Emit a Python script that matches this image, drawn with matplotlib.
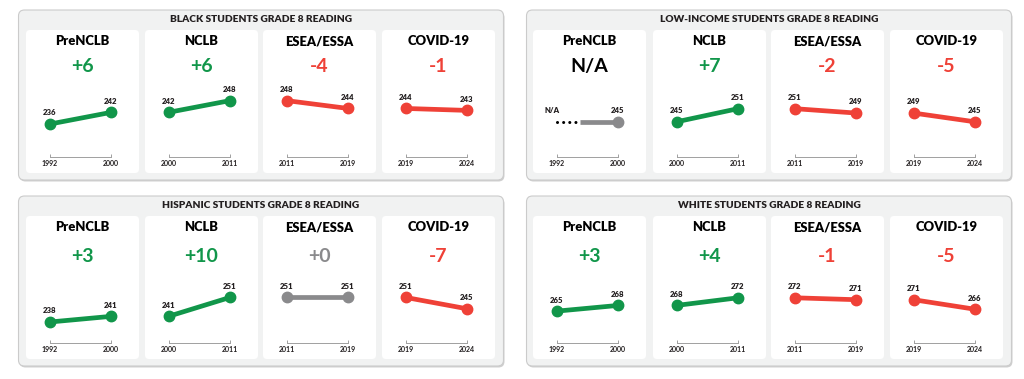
import matplotlib.pyplot as plt
from matplotlib.patches import FancyBboxPatch

plt.rcParams['font.family'] = ['Lato', 'DejaVu Sans']

# ---- data ----
group_titles = ["BLACK STUDENTS GRADE 8 READING", "LOW-INCOME STUDENTS GRADE 8 READING",
                "HISPANIC STUDENTS GRADE 8 READING", "WHITE STUDENTS GRADE 8 READING"]
eras = ["PreNCLB", "NCLB", "ESEA/ESSA", "COVID-19"]
era_years = [("1992", "2000"), ("2000", "2011"), ("2011", "2019"), ("2019", "2024")]

# scores at 1992, 2000, 2011, 2019, 2024 (None = not available)
black_scores = [236, 242, 248, 244, 243]
low_income_scores = [None, 245, 251, 249, 245]
hispanic_scores = [238, 241, 251, 251, 245]
white_scores = [265, 268, 272, 271, 266]

# reported changes per era (as printed)
black_deltas = [6, 6, -4, -1]
low_income_deltas = [None, 7, -2, -5]
hispanic_deltas = [3, 10, 0, -7]
white_deltas = [3, 4, -1, -5]

all_scores = [black_scores, low_income_scores, hispanic_scores, white_scores]
all_deltas = [black_deltas, low_income_deltas, hispanic_deltas, white_deltas]
# score axis range for each group's mini charts
score_lims = [(219.5, 253.4), (229.2, 259.5), (227.2, 262.3), (248.6, 283.4)]

GREEN = "#11964a"
RED = "#ef4137"
GRAY = "#8a8a8c"
DARK = "#231f20"

W, H = 1024, 379
fig = plt.figure(figsize=(W / 100, H / 100), dpi=100)
bg = fig.add_axes([0, 0, 1, 1])
bg.set_xlim(0, W)
bg.set_ylim(H, 0)
bg.axis("off")

group_x = [18.5, 526.5, 18.5, 526.5]
group_y = [10, 10, 196, 196]
delta_off = [36.5, 36.5, 41, 41]
panel_dx = [7.5, 126.5, 244.5, 363.5]
panel_w, panel_h = 113, 143


def color_for(d):
    if d is None or d == 0:
        return GRAY
    return GREEN if d > 0 else RED


def value_label(ax, xv, v, txt):
    ax.annotate(txt, (xv, v), xytext=(0, 5.5), textcoords="offset points",
                ha="center", va="bottom", fontsize=5.6, fontweight="heavy", color=DARK,
                annotation_clip=False)


for g in range(4):
    gx, gy = group_x[g], group_y[g]
    bg.add_patch(FancyBboxPatch((gx + 1, gy + 1.5), 485, 170, boxstyle="round,pad=0,rounding_size=6",
                                fc="#d0d0d0", ec="none", zorder=0))
    bg.add_patch(FancyBboxPatch((gx, gy), 485, 170, boxstyle="round,pad=0,rounding_size=6",
                                fc="#f1f2f2", ec="#cbcbcb", lw=0.8, zorder=1))
    bg.text(gx + 242.5, gy + 9.5, group_titles[g], ha="center", va="center",
            fontsize=7.3, fontweight="heavy", color=DARK, zorder=3)

    scores = all_scores[g]
    deltas = all_deltas[g]
    for p in range(4):
        px = gx + panel_dx[p] if not (g % 2 == 1 and p == 0) else gx + 6.5
        py = gy + 20
        bg.add_patch(FancyBboxPatch((px, py), panel_w, panel_h, boxstyle="round,pad=0,rounding_size=4",
                                    fc="white", ec="none", zorder=2))
        bg.text(px + panel_w / 2, py + 11, eras[p], ha="center", va="center",
                fontsize=9.4, fontweight="heavy", color="black", zorder=3)
        d = deltas[p]
        if d is None:
            dtxt, dcol = "N/A", "black"
        else:
            dtxt, dcol = ("+%d" % d if d >= 0 else "-%d" % abs(d)), color_for(d)
        bg.text(px + panel_w / 2, py + delta_off[g], dtxt, ha="center", va="center",
                fontsize=14, fontweight="bold", color=dcol, zorder=3)

        # mini line chart
        ax_l = (px + 23.5) / W
        ax_w = 61.5 / W
        ax_top = py + 60
        ax_bot = py + 126.5
        ax = fig.add_axes([ax_l, 1 - ax_bot / H, ax_w, (ax_bot - ax_top) / H])
        ax.patch.set_visible(False)
        ax.set_xlim(0, 1)
        ax.set_ylim(*score_lims[g])
        for s in ["top", "left", "right"]:
            ax.spines[s].set_visible(False)
        ax.spines["bottom"].set_color("#a0a0a0")
        ax.spines["bottom"].set_linewidth(0.7)
        ax.set_yticks([])
        ax.set_xticks([0, 1])
        ax.set_xticklabels(era_years[p], fontweight="bold")
        ax.tick_params(axis="x", direction="in", length=2.5, width=0.7, color="#a0a0a0",
                       labelsize=5, labelcolor=DARK, pad=2.5)

        v0, v1 = scores[p], scores[p + 1]
        col = color_for(d)
        if v0 is None:
            ax.plot([0, 0.33], [v1, v1], color="black", lw=2.2, ls=(0, (0.01, 2.0)),
                    dash_capstyle="round", clip_on=False)
            ax.plot([0.39, 1], [v1, v1], color=col, lw=3.4, solid_capstyle="butt", clip_on=False)
            ax.plot([1], [v1], "o", color=col, ms=7.5, clip_on=False)
            value_label(ax, -0.08, v1, "N/A")
            value_label(ax, 1, v1, str(v1))
        else:
            ax.plot([0, 1], [v0, v1], color=col, lw=3.4, marker="o", ms=7.5, clip_on=False)
            value_label(ax, 0, v0, str(v0))
            value_label(ax, 1, v1, str(v1))

fig.savefig("out.png", dpi=100)
